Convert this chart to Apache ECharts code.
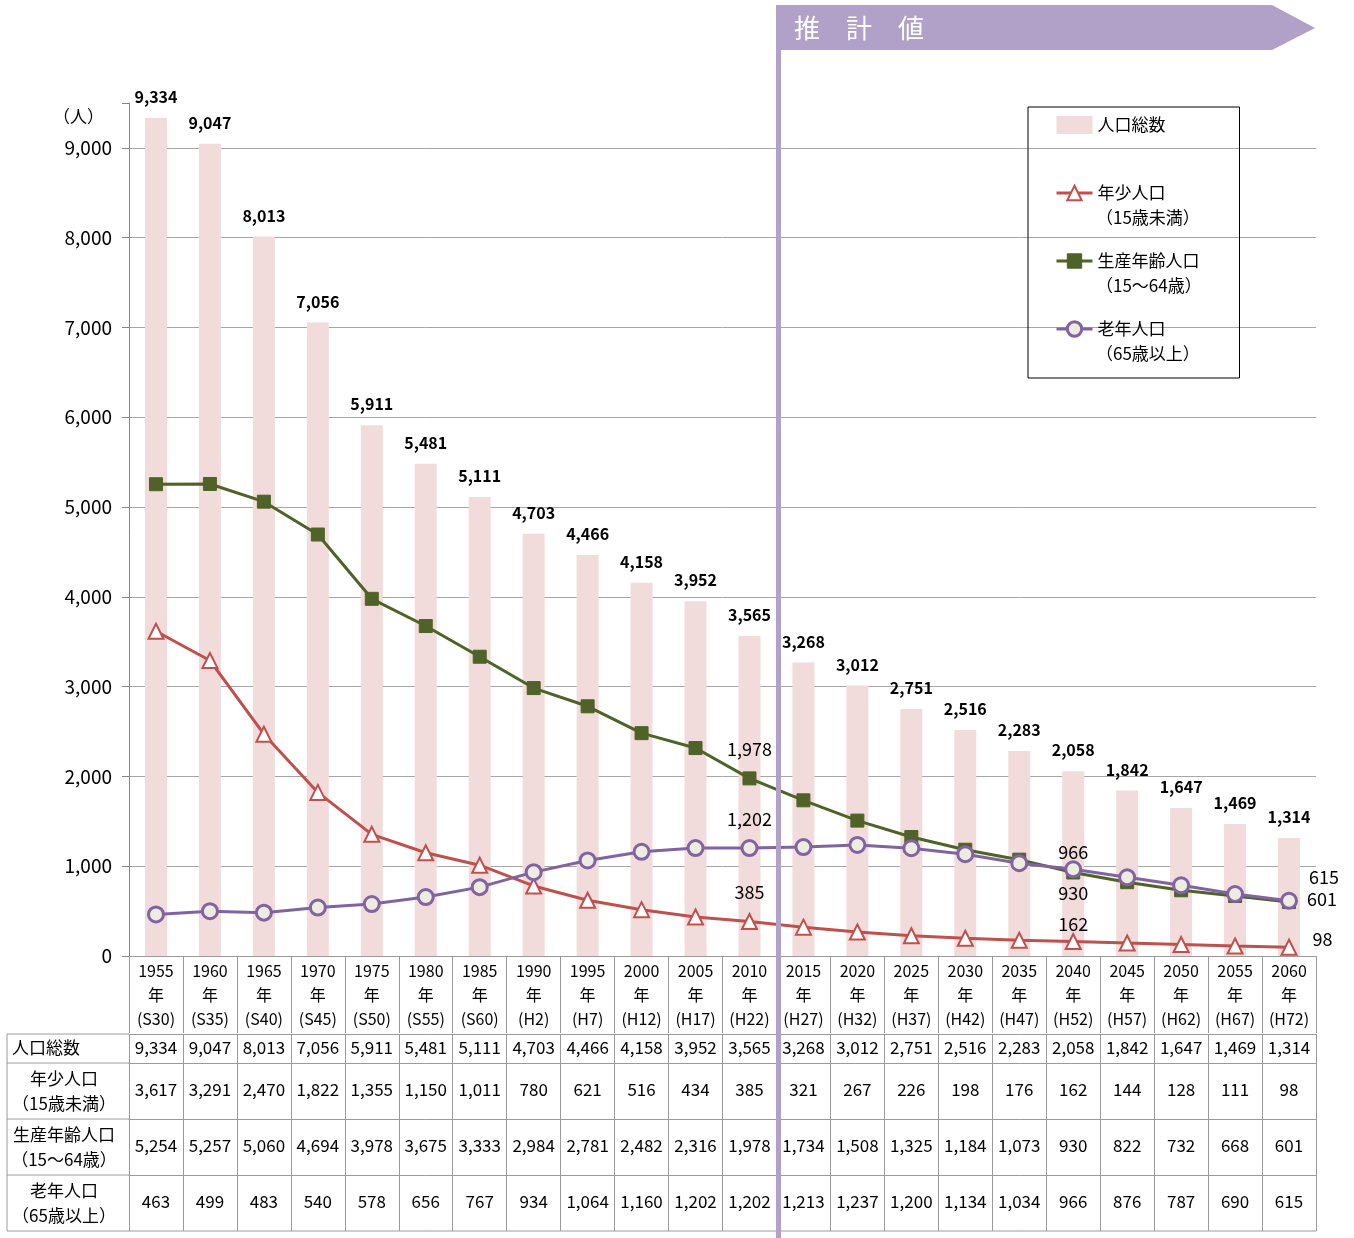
<!DOCTYPE html>
<html><head><meta charset="utf-8">
<script src="https://cdn.jsdelivr.net/npm/echarts@6/dist/echarts.min.js"></script>
<style>html,body{margin:0;padding:0;background:#fff}#c{width:1354px;height:1238px}</style>
</head><body><div id="c"></div>
<script>
const years = ['1955','1960','1965','1970','1975','1980','1985','1990','1995','2000','2005','2010','2015','2020','2025','2030','2035','2040','2045','2050','2055','2060'];
const eras = ['S30','S35','S40','S45','S50','S55','S60','H2','H7','H12','H17','H22','H27','H32','H37','H42','H47','H52','H57','H62','H67','H72'];
const total = [9334,9047,8013,7056,5911,5481,5111,4703,4466,4158,3952,3565,3268,3012,2751,2516,2283,2058,1842,1647,1469,1314];
const young = [3617,3291,2470,1822,1355,1150,1011,780,621,516,434,385,321,267,226,198,176,162,144,128,111,98];
const working = [5254,5257,5060,4694,3978,3675,3333,2984,2781,2482,2316,1978,1734,1508,1325,1184,1073,930,822,732,668,601];
const elderly = [463,499,483,540,578,656,767,934,1064,1160,1202,1202,1213,1237,1200,1134,1034,966,876,787,690,615];
const yTicks = [0,1000,2000,3000,4000,5000,6000,7000,8000,9000];
const rowNames = ['人口総数','年少人口\n（15歳未満）','生産年齢人口\n（15〜64歳）','老年人口\n（65歳以上）'];

const FONT = '"Noto Sans CJK JP", "Noto Sans", sans-serif';
const fmt = v => Number(v).toLocaleString('en-US');
const GRAY = '#A6A6A6';
const TGRAY = '#9A9A9A';
const PURPLE_BAR = '#B1A0C7';

const chart = echarts.init(document.getElementById('c'));

const specs = {
  young:   {11:{position:'top', distance:12}, 17:{position:'top', distance:0}, 21:{position:'right', distance:10, offset:[5,-8]}},
  working: {11:{position:'top', distance:13}, 17:{position:'bottom', distance:5}, 21:{position:'right', distance:14, offset:[-3,-3]}},
  elderly: {11:{position:'top', distance:11}, 17:{position:'top', distance:-1}, 21:{position:'right', distance:14, offset:[-3,-24]}}
};
function mk(arr, sp) {
  return arr.map((v, i) => sp[i] ? {value: v, label: Object.assign({show: true, formatter: p => fmt(p.value), fontSize: 18, color: '#000', fontFamily: FONT}, sp[i])} : v);
}

function rowAxis(arr, offset, h) {
  return {
    type: 'category', gridIndex: 0, position: 'bottom', offset: offset,
    data: arr.map(fmt), silent: true,
    axisLine: {show: true, lineStyle: {color: TGRAY, width: 1}},
    axisTick: {show: true, length: h, lineStyle: {color: TGRAY, width: 1}},
    axisLabel: {margin: Math.round((h - 20) / 2), fontSize: 17, color: '#000', fontFamily: FONT, interval: 0},
    splitLine: {show: false}
  };
}

const rowTops = [1034, 1063, 1119, 1175, 1231];
const graphics = [];
rowTops.forEach(y => graphics.push({type: 'line', shape: {x1: 7, y1: y, x2: 129, y2: y}, style: {stroke: TGRAY, lineWidth: 1}, z: 50}));
graphics.push({type: 'line', shape: {x1: 7, y1: 1034, x2: 7, y2: 1231}, style: {stroke: TGRAY, lineWidth: 1}, z: 50});
graphics.push({type: 'line', shape: {x1: 129, y1: 1231, x2: 1316, y2: 1231}, style: {stroke: TGRAY, lineWidth: 1}, z: 50});
graphics.push({type: 'text', x: 12, y: 1048, style: {text: rowNames[0], font: '17px ' + FONT, fill: '#000', textAlign: 'left', textVerticalAlign: 'middle'}, z: 50});
[[1091, rowNames[1]], [1147, rowNames[2]], [1203, rowNames[3]]].forEach(([y, t]) => {
  graphics.push({type: 'text', x: 64, y: y, style: {text: t, font: '17px ' + FONT, fill: '#000', textAlign: 'center', textVerticalAlign: 'middle', lineHeight: 25}, z: 50});
});
graphics.push({type: 'text', x: 104, y: 117, style: {text: '（人）', font: '17px ' + FONT, fill: '#000', textAlign: 'right', textVerticalAlign: 'middle'}, z: 50});
[['（15歳未満）', 218], ['（15〜64歳）', 286], ['（65歳以上）', 354]].forEach(([t, y]) => {
  graphics.push({type: 'text', x: 1096, y: y, style: {text: t, font: '17px ' + FONT, fill: '#000', textAlign: 'left', textVerticalAlign: 'middle'}, z: 50});
});
graphics.push({type: 'polygon', shape: {points: [[776, 5], [1272, 5], [1315, 28], [1272, 50], [776, 50]]}, style: {fill: PURPLE_BAR}, z: 60});
graphics.push({type: 'text', x: 794, y: 28, style: {text: '推　計　値', font: '26px ' + FONT, fill: '#fff', textAlign: 'left', textVerticalAlign: 'middle'}, z: 61});
graphics.push({type: 'rect', shape: {x: 776, y: 5, width: 5, height: 1233}, style: {fill: PURPLE_BAR}, z: 60});

const splitColors = yTicks.map(() => GRAY).concat(['rgba(0,0,0,0)']);

chart.setOption({
  animation: false,
  backgroundColor: '#fff',
  textStyle: {fontFamily: FONT},
  grid: {left: 129, right: 38, top: 103, bottom: 282, containLabel: false, outerBoundsMode: 'none'},
  legend: {
    left: 1028, top: 107, orient: 'vertical',
    padding: [6, 40, 37, 27],
    borderColor: '#000', borderWidth: 1,
    itemWidth: 36, itemHeight: 18, itemGap: 44, itemTextGap: 5,
    lineStyle: {width: 3},
    textStyle: {fontSize: 17, color: '#000', fontFamily: FONT, lineHeight: 24},
    data: [
      {name: '人口総数', icon: 'rect', itemStyle: {borderWidth: 0}},
      {name: '年少人口', itemStyle: {borderWidth: 2}, lineStyle: {width: 3}},
      {name: '生産年齢人口', itemStyle: {borderWidth: 1}, lineStyle: {width: 3}},
      {name: '老年人口', itemStyle: {borderWidth: 3}, lineStyle: {width: 3}}
    ]
  },
  xAxis: [
    {
      type: 'category', gridIndex: 0, position: 'bottom',
      data: years.map((y, i) => y + '\n年\n(' + eras[i] + ')'),
      axisLine: {show: true, lineStyle: {color: TGRAY, width: 1}},
      axisTick: {show: true, length: 77, lineStyle: {color: TGRAY, width: 1}},
      axisLabel: {margin: 3, fontSize: 16, lineHeight: 24, color: '#000', fontFamily: FONT, interval: 0},
      splitLine: {show: false}
    },
    rowAxis(total, 78, 29),
    rowAxis(young, 107, 56),
    rowAxis(working, 163, 56),
    rowAxis(elderly, 219, 56)
  ],
  yAxis: {
    type: 'value', min: 0, max: 9500, interval: 1000,
    axisLine: {show: true, lineStyle: {color: '#868686'}},
    axisTick: {show: true, length: 7, lineStyle: {color: '#868686'}},
    axisLabel: {margin: 17, fontSize: 19, color: '#000', fontFamily: FONT, formatter: v => (v % 1000 === 0 ? fmt(v) : '')},
    splitLine: {show: true, lineStyle: {color: splitColors, width: 1}}
  },
  series: [
    {
      name: '人口総数', type: 'bar', data: total, barWidth: 22,
      itemStyle: {color: '#F2DCDB'},
      label: {show: true, position: 'top', distance: 13, formatter: p => fmt(p.value), fontSize: 16, fontWeight: 'bold', color: '#000', fontFamily: FONT},
      z: 1
    },
    {
      name: '年少人口', type: 'line', data: mk(young, specs.young),
      symbol: 'triangle', symbolSize: 15, showAllSymbol: true,
      lineStyle: {color: '#C0504D', width: 3},
      itemStyle: {color: '#fff', borderColor: '#C0504D', borderWidth: 2},
      z: 3
    },
    {
      name: '生産年齢人口', type: 'line', data: mk(working, specs.working),
      symbol: 'rect', symbolSize: 13, showAllSymbol: true,
      lineStyle: {color: '#4F6228', width: 3},
      itemStyle: {color: '#4F6228', borderColor: '#4F6228', borderWidth: 1},
      z: 3
    },
    {
      name: '老年人口', type: 'line', data: mk(elderly, specs.elderly),
      symbol: 'circle', symbolSize: 15, showAllSymbol: true,
      lineStyle: {color: '#8064A2', width: 3},
      itemStyle: {color: '#EEECE1', borderColor: '#8064A2', borderWidth: 3},
      z: 4
    }
  ],
  graphic: graphics
});
</script>
</body></html>
